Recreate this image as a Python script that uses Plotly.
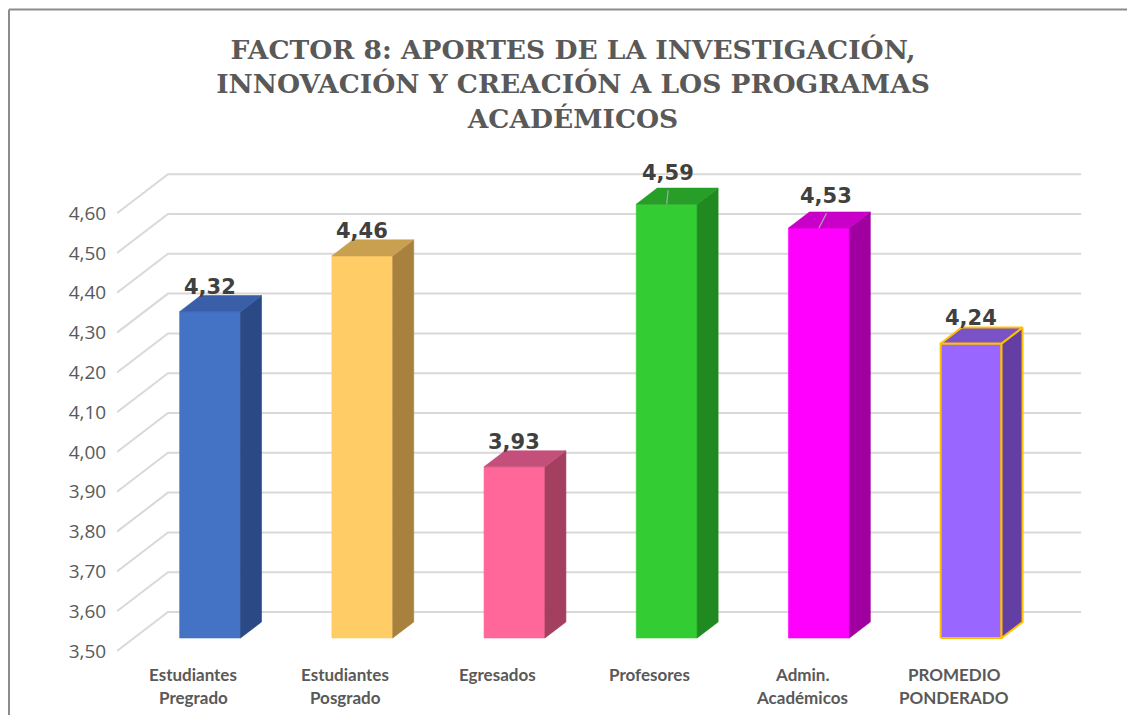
import plotly.graph_objects as go

# ---------------- data ----------------
categories = ["Estudiantes\nPregrado", "Estudiantes\nPosgrado", "Egresados",
              "Profesores", "Admin.\nAcadémicos", "PROMEDIO\nPONDERADO"]
values = [4.32, 4.46, 3.93, 4.59, 4.53, 4.24]
tick_values = [3.5, 3.6, 3.7, 3.8, 3.9, 4.0, 4.1, 4.2, 4.3, 4.4, 4.5, 4.6]
title_text = ("FACTOR 8: APORTES DE LA INVESTIGACIÓN,<br>"
              "INNOVACIÓN Y CREACIÓN A LOS PROGRAMAS<br>ACADÉMICOS")

# ---------------- style ----------------
front_colors = ["#4472C4", "#FFCC66", "#FF6699", "#33CC33", "#FF00FF", "#9966FF"]
side_colors = ["#2B4A85", "#A8813F", "#A3405F", "#208A20", "#A000A0", "#633FA3"]
top_colors = ["#3A5FA8", "#C9A050", "#C44F7A", "#279E27", "#C800C8", "#7A52C8"]
outline = [None, None, None, None, None, "#FFC000"]
# extra lift (value units) and x shift for labels moved with leader lines
label_lift = [0, 0, 0, 0.016, 0.018, 0]
label_shift = [0, 0, 0, 0.01, 0.05, 0]

BASE = 3.5
DXU = 0.335     # depth offset of the floor in x units
DYU = 0.098     # depth offset of the floor in value units
D0, D1 = 0.333, 0.745
HW = 0.2
LABEL_GAP = 0.063
GRID = "#D9D9D9"
TEXT = "#595959"

W, H = 1127, 707
L, T = 109, 142
PW, PH = 983, 550
R, B = W - L - PW, H - T - PH
PX_X = 152.2     # pixels per category
PX_Y = 398.0     # pixels per value unit

fig = go.Figure()

# gridlines (front-left diagonal + back wall horizontal)
xs_grid, ys_grid = [], []
x_left = -0.5
x_right = len(categories) - 0.5 + DXU
for t in tick_values:
    xs_grid += [x_left, x_left + DXU, x_right, None]
    ys_grid += [t, t + DYU, t + DYU, None]
fig.add_trace(go.Scatter(x=xs_grid, y=ys_grid, mode="lines",
                         line=dict(color=GRID, width=2),
                         hoverinfo="skip", showlegend=False))

ddx = (D1 - D0) * DXU
ddy = (D1 - D0) * DYU
for i, v in enumerate(values):
    cx = i + D0 * DXU
    x0, x1 = cx - HW, cx + HW
    y0, y1 = BASE + D0 * DYU, v + D0 * DYU
    faces = [
        ([x0, x1, x1, x0, x0], [y0, y0, y1, y1, y0], front_colors[i]),
        ([x1, x1 + ddx, x1 + ddx, x1, x1], [y0, y0 + ddy, y1 + ddy, y1, y0], side_colors[i]),
        ([x0, x1, x1 + ddx, x0 + ddx, x0], [y1, y1, y1 + ddy, y1 + ddy, y1], top_colors[i]),
    ]
    for fx, fy, col in faces:
        lc = outline[i] if outline[i] else col
        lw = 2 if outline[i] else 0.6
        fig.add_trace(go.Scatter(x=fx, y=fy, mode="lines", fill="toself",
                                 fillcolor=col, line=dict(color=lc, width=lw),
                                 hoverinfo="skip", showlegend=False))
    # data label
    ly = y1 + LABEL_GAP + label_lift[i]
    lx = cx + label_shift[i]
    fig.add_annotation(x=lx, y=ly, text="<b>" + f"{v:.2f}".replace(".", ",") + "</b>",
                       showarrow=False, xanchor="center", yanchor="middle",
                       font=dict(family="DejaVu Sans", size=21, color="#404040"))
    if label_lift[i] > 0:
        fig.add_trace(go.Scatter(x=[lx, cx], y=[ly - 0.044, y1], mode="lines",
                                 line=dict(color="#A6A6A6", width=1.2),
                                 hoverinfo="skip", showlegend=False))

# category labels
for i, c in enumerate(categories):
    for k, line in enumerate(c.split("\n")):
        fig.add_annotation(x=i, y=BASE - 0.06 - k * 0.058, text=f"<b>{line}</b>",
                           showarrow=False, xanchor="center", yanchor="middle",
                           font=dict(family="Lato", size=17, color=TEXT))

# chart border (top and left edges visible)
bx = (1 - L) / PW
by = (H - B - 1.5) / PH
fig.add_shape(type="line", xref="paper", yref="paper",
              x0=bx, x1=(W - L) / PW, y0=by, y1=by, line=dict(color="#8C8C8C", width=2))
fig.add_shape(type="line", xref="paper", yref="paper",
              x0=bx, x1=bx, y0=by, y1=-B / PH, line=dict(color="#8C8C8C", width=2))

y_lo = BASE - 49 / PX_Y
fig.update_layout(
    width=W, height=H,
    margin=dict(l=L, r=R, t=T, b=B, autoexpand=False),
    paper_bgcolor="white", plot_bgcolor="white",
    separators=",.",
    title=dict(text=f"<b>{title_text}</b>", x=565 / W, xref="container",
               xanchor="center", y=1 - 51 / H, yref="container", yanchor="top",
               font=dict(family="DejaVu Serif", size=26.5, color=TEXT)),
    xaxis=dict(range=[-0.5, -0.5 + PW / PX_X], visible=False, fixedrange=True),
    yaxis=dict(range=[y_lo, y_lo + PH / PX_Y],
               tickvals=tick_values, tickformat=".2f",
               showgrid=False, zeroline=False, showline=False,
               ticks="outside", ticklen=6, tickcolor="rgba(0,0,0,0)",
               tickfont=dict(family="Open Sans", size=19, color=TEXT)),
    showlegend=False,
)

fig.write_html("out.html",
               post_script="document.documentElement.style.overflow='hidden';"
                           "document.body.style.overflow='hidden';")
